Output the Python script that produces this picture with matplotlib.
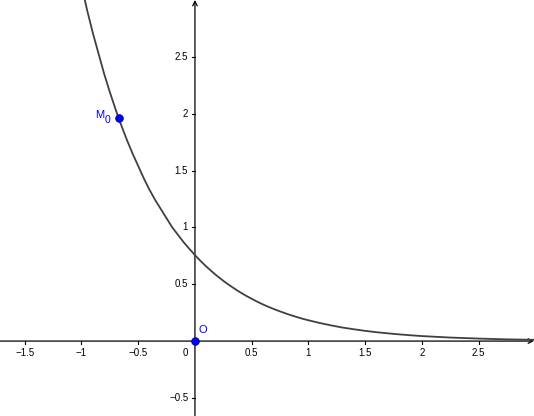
import matplotlib
matplotlib.use("Agg")
import matplotlib.pyplot as plt

# Curve points
curve_x = [-1.0, -0.95, -0.9, -0.85, -0.8, -0.75, -0.7, -0.65, -0.6, -0.55,
           -0.5, -0.45, -0.4, -0.35, -0.3, -0.25, -0.2, -0.15, -0.1, -0.05,
           0.0, 0.05, 0.1, 0.15, 0.2, 0.25, 0.3, 0.35, 0.4, 0.45, 0.5,
           0.55, 0.6, 0.65, 0.7, 0.75, 0.8, 0.85, 0.9, 0.95, 1.0,
           1.1, 1.2, 1.3, 1.4, 1.5, 1.6, 1.7, 1.8, 1.9, 2.0,
           2.25, 2.5, 2.75, 3.0]
curve_y = [3.13, 2.91, 2.71, 2.53, 2.35, 2.19, 2.04, 1.90, 1.77, 1.65,
           1.54, 1.43, 1.33, 1.24, 1.16, 1.08, 1.00, 0.935, 0.87, 0.812,
           0.756, 0.704, 0.656, 0.611, 0.569, 0.530, 0.494, 0.460, 0.428, 0.399, 0.372,
           0.346, 0.322, 0.300, 0.280, 0.261, 0.243, 0.226, 0.211, 0.196, 0.183,
           0.159, 0.138, 0.119, 0.104, 0.090, 0.078, 0.068, 0.059, 0.051, 0.044,
           0.031, 0.022, 0.015, 0.011]

# Named points
point_names = ["M", "O"]
point_x = [-0.667, 0.0]
point_y = [1.959, 0.0]

x_ticks = [-1.5, -1, -0.5, 0.5, 1, 1.5, 2, 2.5]
y_ticks = [-0.5, 0.5, 1, 1.5, 2, 2.5]

W, H = 534, 416
fig = plt.figure(figsize=(W / 100, H / 100), dpi=100)
ax = fig.add_axes([0, 0, 1, 1])
ax.set_xlim(-1.718, 2.988)
ax.set_ylim(-0.659, 3.0)
ax.axis("off")

axis_col = "#000000"
ax.annotate("", xy=(2.988, 0), xytext=(-1.718, 0),
            arrowprops=dict(arrowstyle="->", color=axis_col, lw=0.9,
                            shrinkA=0, shrinkB=0, mutation_scale=8))
ax.annotate("", xy=(0, 3.0), xytext=(0, -0.659),
            arrowprops=dict(arrowstyle="->", color=axis_col, lw=0.9,
                            shrinkA=0, shrinkB=0, mutation_scale=8))

def fmt(v):
    s = ("%g" % v)
    return s.replace("-", "\u2212")

tick_len = 0.025
for t in x_ticks:
    ax.plot([t, t], [0, -tick_len], color=axis_col, lw=0.8)
    ax.text(t, -0.06, fmt(t), ha="center", va="top", fontsize=7,
            family="Liberation Sans")
for t in y_ticks:
    ax.plot([0, -tick_len], [t, t], color=axis_col, lw=0.8)
    ax.text(-0.06, t, fmt(t), ha="right", va="center", fontsize=7,
            family="Liberation Sans")
ax.text(-0.06, -0.06, "0", ha="right", va="top", fontsize=7,
        family="Liberation Sans")

ax.plot(curve_x, curve_y, color="#404040", lw=1.3, solid_capstyle="round",
        solid_joinstyle="round", zorder=3)

ax.scatter(point_x, point_y, s=30, color="#0000ff", edgecolors="#00007f",
           linewidths=0.6, zorder=5, clip_on=False)
ax.text(point_x[0] - 0.215, point_y[0] + 0.03, point_names[0], color="#0000ff",
        ha="left", va="center", fontsize=8, family="Liberation Sans")
ax.text(point_x[0] - 0.125, point_y[0] - 0.015, "0", color="#0000ff",
        ha="left", va="center", fontsize=7.5, family="Liberation Sans")
ax.text(point_x[1] + 0.03, point_y[1] + 0.05, point_names[1], color="#0000ff",
        ha="left", va="bottom", fontsize=8, family="Liberation Sans")

fig.savefig("out.png", dpi=100)
